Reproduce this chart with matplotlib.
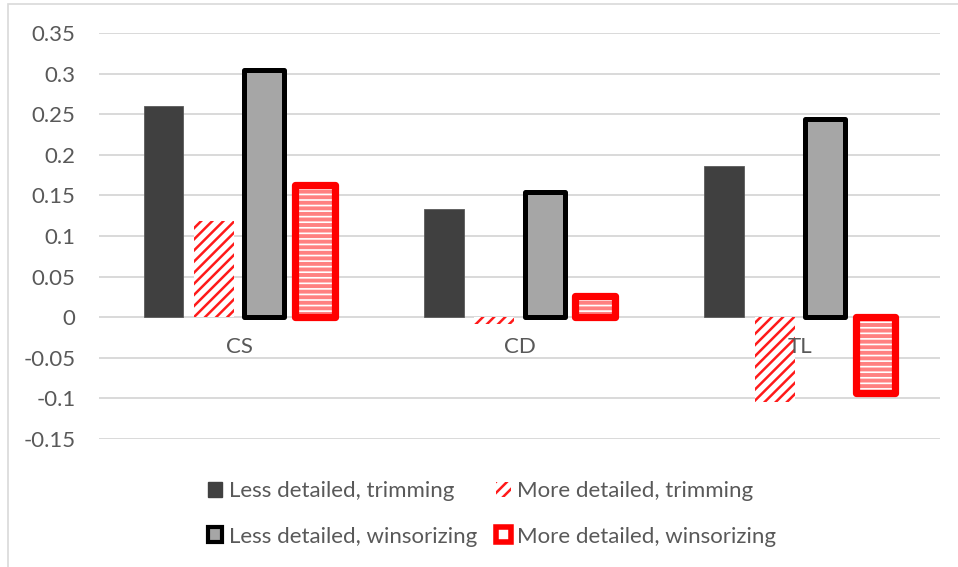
import matplotlib
matplotlib.use("Agg")
import matplotlib.pyplot as plt
from matplotlib.patches import Patch, Rectangle
import numpy as np

plt.rcParams['font.family'] = ['Lato', 'DejaVu Sans']
plt.rcParams['hatch.linewidth'] = 1.8

categories = ["CS", "CD", "TL"]
less_trim = [0.260, 0.133, 0.186]
more_trim = [0.119, -0.008, -0.104]
less_wins = [0.305, 0.154, 0.244]
more_wins = [0.163, 0.026, -0.093]
yticks = [-0.15, -0.1, -0.05, 0, 0.05, 0.1, 0.15, 0.2, 0.25, 0.3, 0.35]
ytick_labels = ["-0.15", "-0.1", "-0.05", "0", "0.05", "0.1", "0.15", "0.2", "0.25", "0.3", "0.35"]
series_names = ["Less detailed, trimming", "More detailed, trimming",
                "Less detailed, winsorizing", "More detailed, winsorizing"]

W, H = 958, 567
FS = 16.0
fig = plt.figure(figsize=(W / 100, H / 100), dpi=100)
fig.patch.set_facecolor("white")
# outer chart border
fig.add_artist(Rectangle((8 / W, -0.05), 1.1, (1 - 4 / H) + 0.05, transform=fig.transFigure,
                         fill=False, edgecolor="#d9d9d9", linewidth=1.2))

ax = fig.add_axes([99 / W, 1 - 439 / H, (940 - 99) / W, (439 - 33) / H])
ax.set_xlim(0, 3)
ax.set_ylim(-0.15, 0.35)
for s in ax.spines.values():
    s.set_visible(False)
ax.set_yticks(yticks)
ax.set_yticklabels(ytick_labels)
ax.tick_params(axis="y", length=0, pad=17, labelsize=FS, labelcolor="#595959")
ax.set_xticks([])
ax.yaxis.grid(True, color="#d9d9d9", linewidth=1.4, zorder=0)
ax.set_axisbelow(True)

x = np.arange(len(categories)) + 0.5
step = 0.18
bw = 0.142
tc = "#595959"


def set_hlw(container, lw):
    for p in container:
        if hasattr(p, "set_hatch_linewidth"):
            p.set_hatch_linewidth(lw)


# Less detailed, trimming
ax.bar(x - 1.5 * step, less_trim, bw, color="#404040", edgecolor="#5a5a5a", linewidth=0.6, zorder=2)
# More detailed, trimming (diagonal red stripes)
db = ax.bar(x - 0.5 * step, more_trim, bw, facecolor="white", edgecolor="#ff1a1a", linewidth=0,
            hatch="///", zorder=2)
set_hlw(db, 1.8)
# Less detailed, winsorizing
ax.bar(x + 0.5 * step, less_wins, bw, color="#a6a6a6", edgecolor="black", linewidth=3.6,
       joinstyle="round", zorder=3)
# More detailed, winsorizing (horizontal light-red stripes, thick red border)
hb = ax.bar(x + 1.5 * step, more_wins, bw, facecolor="white", edgecolor="#ff8080", linewidth=0,
            hatch="---", zorder=2)
set_hlw(hb, 2.8)
ax.bar(x + 1.5 * step, more_wins, bw, facecolor="none", edgecolor="#ff0000", linewidth=5.2,
       joinstyle="round", zorder=3)

for xi, c in zip(x, categories):
    ax.annotate(c, (xi, 0), xytext=(0, -20), textcoords="offset pixels", ha="center", va="top",
                fontsize=FS, color=tc)

handles = [
    Patch(facecolor="#404040", edgecolor="#404040"),
    Patch(facecolor="white", edgecolor="#ff1a1a", linewidth=0, hatch="///"),
    Patch(facecolor="#a6a6a6", edgecolor="black", linewidth=3.0, joinstyle="round"),
    Patch(facecolor="white", edgecolor="#ff0000", linewidth=4.0, joinstyle="round"),
]
order = [0, 2, 1, 3]
leg = fig.legend([handles[i] for i in order], [series_names[i] for i in order], ncol=2,
                 loc="upper left", bbox_to_anchor=(208 / W, 1 - 481 / H), frameon=False,
                 fontsize=FS, labelcolor=tc, handlelength=0.65, handleheight=0.65,
                 handletextpad=0.3, columnspacing=0.85, labelspacing=1.15,
                 borderpad=0, borderaxespad=0)

fig.savefig("out.png", dpi=100)
